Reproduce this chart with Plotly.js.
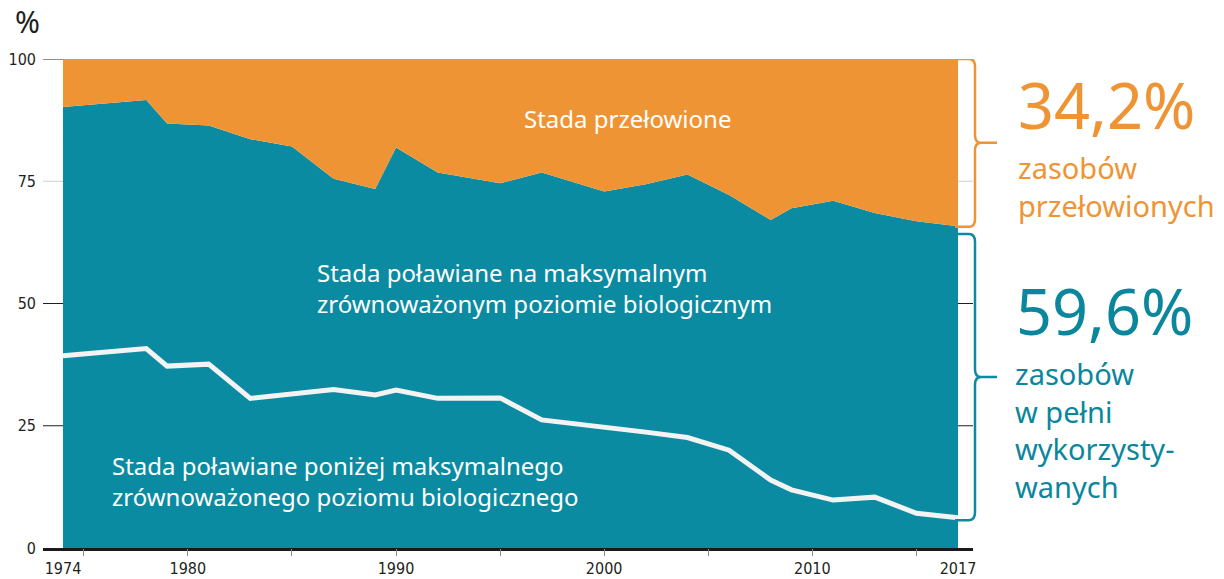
<!DOCTYPE html>
<html>
<head>
<meta charset="utf-8">
<script src="https://cdn.plot.ly/plotly-3.0.1.min.js"></script>
<style>html,body{margin:0;padding:0;background:#fff;}#chart{width:1224px;height:579px;}</style>
</head>
<body>
<div id="chart"></div>
<script>
// Data
const years = [1974, 1978, 1979, 1981, 1983, 1985, 1987, 1989, 1990, 1992, 1995, 1997, 2000, 2002, 2004, 2006, 2008, 2009, 2011, 2013, 2015, 2017];
const overfished = [9.8, 8.4, 13.2, 13.6, 16.4, 17.9, 24.5, 26.6, 18.1, 23.2, 25.4, 23.2, 27.1, 25.6, 23.6, 27.8, 32.9, 30.5, 29.0, 31.5, 33.2, 34.2];
const underfished = [39.3, 40.8, 37.2, 37.6, 30.6, 31.4, 32.4, 31.3, 32.3, 30.6, 30.7, 26.2, 24.8, 23.7, 22.6, 20.0, 13.9, 11.9, 9.8, 10.4, 7.1, 6.2];
const fullyFished = years.map((_, i) => +(100 - overfished[i] - underfished[i]).toFixed(1));
const xTickLabels = [1974, 1980, 1990, 2000, 2010, 2017];
const xTickMarks = [1975, 1980, 1985, 1990, 1995, 2000, 2005, 2010, 2015];
const yTicks = [0, 25, 50, 75, 100];
const gridValues = [100, 75, 50, 25];
const gridColors = ['#1f1f1f', '#cfcfcf', '#1f1f1f', '#1f1f1f'];
const labelOver = 'Stada przełowione';
const labelFull = 'Stada poławiane na maksymalnym<br>zrównoważonym poziomie biologicznym';
const labelUnder = 'Stada poławiane poniżej maksymalnego<br>zrównoważonego poziomu biologicznego';
const lastOver = overfished[overfished.length - 1];
const lastFull = fullyFished[fullyFished.length - 1];
const lastUnder = underfished[underfished.length - 1];

const ORANGE = '#EF9434';
const TEAL = '#0B8BA1';
const TEAL_TEXT = '#0A869D';
const SANS = '"Noto Sans", "Open Sans", sans-serif';
const NARROW = '"Liberation Sans Narrow", "DejaVu Sans Condensed", "Arial Narrow", sans-serif';

const traces = [
  {x: years, y: underfished, type: 'scatter', mode: 'lines', stackgroup: 'a',
   fillcolor: TEAL, line: {width: 0, color: TEAL}, hoverinfo: 'skip'},
  {x: years, y: fullyFished, type: 'scatter', mode: 'lines', stackgroup: 'a',
   fillcolor: TEAL, line: {width: 0, color: TEAL}, hoverinfo: 'skip'},
  {x: years, y: overfished, type: 'scatter', mode: 'lines', stackgroup: 'a',
   fillcolor: ORANGE, line: {width: 0, color: ORANGE}, hoverinfo: 'skip'},
  {x: years, y: underfished, type: 'scatter', mode: 'lines',
   line: {width: 5, color: '#f3f3f3'}, hoverinfo: 'skip'},
  {x: xTickMarks, y: xTickMarks.map(() => null), xaxis: 'x2', type: 'scatter', mode: 'lines', hoverinfo: 'skip', showlegend: false}
];

// paper coords helpers (plot area 43..973 x, 59..548 y)
const L = 43, R = 973, T = 59, B = 548;
const px = v => (v - L) / (R - L);
const py = v => (B - v) / (B - T);

const shapes = gridValues.map((v, i) => ({
  type: 'line', xref: 'paper', yref: 'y', x0: 0, x1: 1, y0: v, y1: v,
  line: {color: gridColors[i], width: 1.2}, layer: 'below'
}));

function bracket(top, bot, color) {
  const hx = px(955), vx = px(975), tx = px(997);
  const mid = (top + bot) / 2;
  const d = 1.6, rx = px(975) - px(969);
  const path = `M ${hx},${top} L ${vx - rx},${top} Q ${vx},${top} ${vx},${top - d} ` +
    `L ${vx},${mid + d} Q ${vx},${mid} ${vx + rx},${mid} L ${tx},${mid} ` +
    `M ${vx + rx},${mid} Q ${vx},${mid} ${vx},${mid - d} ` +
    `L ${vx},${bot + d} Q ${vx},${bot} ${vx - rx},${bot} L ${hx},${bot}`;
  return {type: 'path', xref: 'paper', yref: 'y', path, line: {color, width: 2.5}, layer: 'above'};
}
shapes.push(bracket(100, 100 - lastOver - 0.1, ORANGE));
shapes.push(bracket(100 - lastOver - 1.6, lastUnder - 0.5, TEAL));

const annotations = [
  {text: '%', xref: 'paper', yref: 'paper', x: px(13), y: py(22), xanchor: 'left', yanchor: 'middle',
   showarrow: false, font: {family: SANS, size: 30, color: '#231f20'}},
  {text: labelOver, xref: 'paper', yref: 'paper', x: px(627), y: py(119), xanchor: 'center', yanchor: 'middle',
   showarrow: false, font: {family: SANS, size: 24, color: '#ffffff'}},
  {text: labelFull, xref: 'paper', yref: 'paper', x: px(315), y: py(288), xanchor: 'left', yanchor: 'middle', align: 'left',
   showarrow: false, font: {family: SANS, size: 24, color: '#ffffff'}},
  {text: labelUnder, xref: 'paper', yref: 'paper', x: px(110), y: py(481), xanchor: 'left', yanchor: 'middle', align: 'left',
   showarrow: false, font: {family: SANS, size: 24, color: '#ffffff'}},
  {text: lastOver.toFixed(1).replace('.', ',') + '%', xref: 'paper', yref: 'paper', x: px(1016), y: py(104), xanchor: 'left', yanchor: 'middle',
   showarrow: false, font: {family: SANS, size: 63, color: ORANGE}},
  {text: 'zasobów<br>przełowionych', xref: 'paper', yref: 'paper', x: px(1016), y: py(186), xanchor: 'left', yanchor: 'middle', align: 'left',
   showarrow: false, font: {family: SANS, size: 29, color: ORANGE}},
  {text: lastFull.toFixed(1).replace('.', ',') + '%', xref: 'paper', yref: 'paper', x: px(1014), y: py(310), xanchor: 'left', yanchor: 'middle',
   showarrow: false, font: {family: SANS, size: 63, color: TEAL_TEXT}},
  {text: 'zasobów<br>w pełni<br>wykorzysty-<br>wanych', xref: 'paper', yref: 'paper', x: px(1013), y: py(430), xanchor: 'left', yanchor: 'middle', align: 'left',
   showarrow: false, font: {family: SANS, size: 29, color: TEAL_TEXT}}
];

const xRange = [1973.04, 2017.72];
const layout = {
  width: 1224, height: 579,
  margin: {l: L, r: 1224 - R, t: T, b: 579 - B, pad: 0},
  paper_bgcolor: '#ffffff', plot_bgcolor: 'rgba(0,0,0,0)',
  showlegend: false,
  xaxis: {range: xRange, tickmode: 'array', tickvals: xTickLabels, ticktext: xTickLabels.map(String),
    ticks: '', showgrid: false, zeroline: false, showline: true, linecolor: '#1a1a1a', linewidth: 2.5,
    tickfont: {family: NARROW, size: 16, color: '#231f20'}, ticklabelstandoff: 4, fixedrange: true},
  xaxis2: {range: xRange, overlaying: 'x', anchor: 'y', side: 'bottom', tickmode: 'array', tickvals: xTickMarks,
    ticks: 'outside', ticklen: 7, tickwidth: 1, tickcolor: '#8a8a8a', showticklabels: false,
    showgrid: false, zeroline: false, showline: false, fixedrange: true},
  yaxis: {range: [0, 100], tickmode: 'array', tickvals: yTicks, ticktext: yTicks.map(String), ticks: '',
    showgrid: false, zeroline: false, showline: false, ticklabelstandoff: 6,
    tickfont: {family: NARROW, size: 16, color: '#231f20'}, fixedrange: true},
  shapes, annotations
};

Plotly.newPlot('chart', traces, layout, {displayModeBar: false, staticPlot: true});
</script>
</body>
</html>
